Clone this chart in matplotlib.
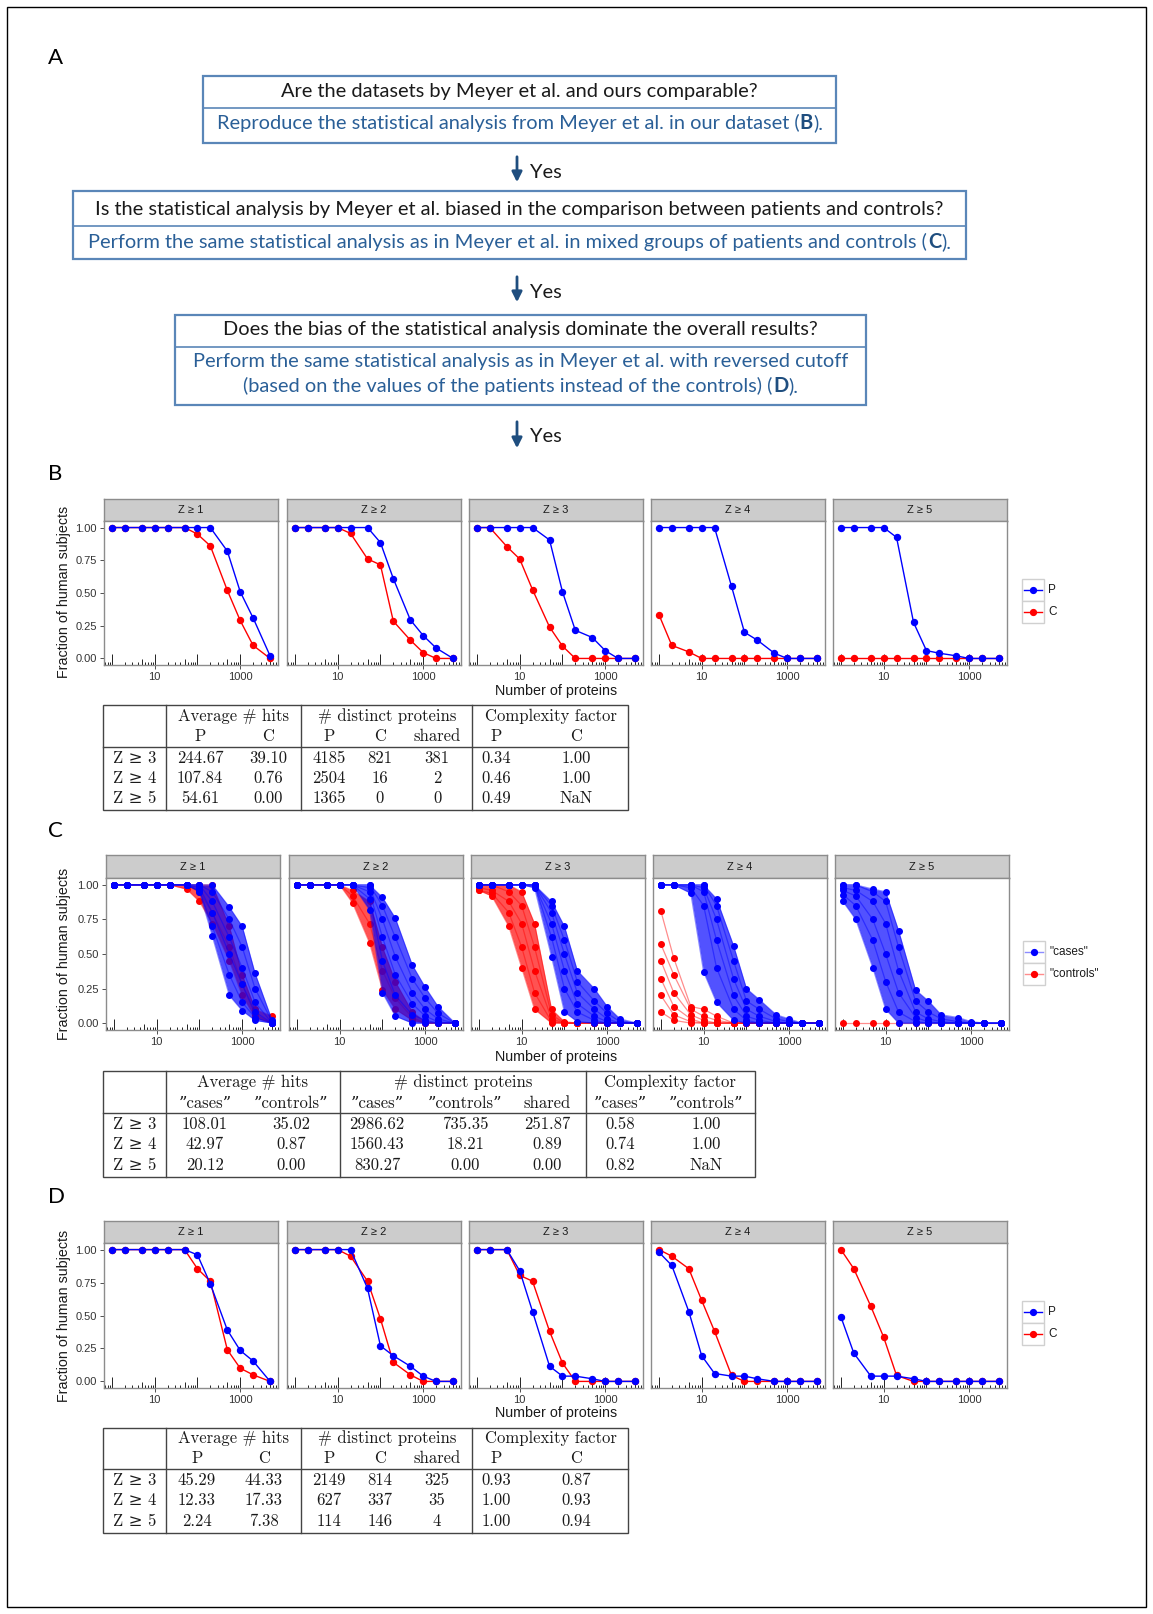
import matplotlib
matplotlib.use("Agg")
import matplotlib.pyplot as plt
import matplotlib.transforms as mtrans
from matplotlib.patches import Rectangle
import numpy as np

W, H = 1153, 1614

# ---------------- data ----------------
n_prot = [1, 2, 5, 10, 20, 50, 100, 200, 500, 1000, 2000, 5000]
z_strips = ["Z \u2265 1", "Z \u2265 2", "Z \u2265 3", "Z \u2265 4", "Z \u2265 5"]

# panel B: fraction of subjects, P (patients) and C (controls), one list per Z cutoff
b_p = [
    [1, 1, 1, 1, 1, 1, 1, 1, 0.82, 0.51, 0.31, 0.02],
    [1, 1, 1, 1, 1, 1, 0.885, 0.61, 0.295, 0.175, 0.08, 0.0],
    [1, 1, 1, 1, 1, 0.905, 0.51, 0.215, 0.16, 0.06, 0.0, 0.0],
    [1, 1, 1, 1, 1, 0.55, 0.20, 0.14, 0.04, 0.0, 0.0, 0.0],
    [1, 1, 1, 1, 0.925, 0.275, 0.06, 0.04, 0.02, 0.0, 0.0, 0.0],
]
b_c = [
    [1, 1, 1, 1, 1, 1, 0.95, 0.86, 0.52, 0.29, 0.10, 0.0],
    [1, 1, 1, 1, 0.955, 0.76, 0.715, 0.285, 0.14, 0.045, 0.0, 0.0],
    [1, 1, 0.855, 0.76, 0.525, 0.24, 0.095, 0.0, 0.0, 0.0, 0.0, 0.0],
    [0.335, 0.10, 0.05, 0.0, 0.0, 0.0, 0.0, 0.0, 0.0, 0.0, 0.0, 0.0],
    [0, 0, 0, 0, 0, 0, 0, 0, 0, 0, 0, 0],
]

# panel C: mixed groups, a selection of curves per Z cutoff
c_cases = [
    [[1, 1, 1, 1, 1, 1, 1, 1, 0.84, 0.70, 0.36, 0.02],
     [1, 1, 1, 1, 1, 1, 1, 0.95, 0.75, 0.55, 0.25, 0.01],
     [1, 1, 1, 1, 1, 1, 1, 0.88, 0.62, 0.40, 0.15, 0.0],
     [1, 1, 1, 1, 1, 1, 0.98, 0.80, 0.50, 0.28, 0.08, 0.0],
     [1, 1, 1, 1, 1, 1, 0.96, 0.70, 0.35, 0.15, 0.04, 0.0],
     [1, 1, 1, 1, 1, 1, 0.95, 0.63, 0.20, 0.09, 0.02, 0.0]],
    [[1, 1, 1, 1, 1, 1, 0.91, 0.76, 0.42, 0.26, 0.12, 0.0],
     [1, 1, 1, 1, 1, 1, 0.85, 0.62, 0.32, 0.18, 0.07, 0.0],
     [1, 1, 1, 1, 1, 0.98, 0.75, 0.48, 0.22, 0.10, 0.03, 0.0],
     [1, 1, 1, 1, 1, 0.95, 0.62, 0.35, 0.14, 0.05, 0.01, 0.0],
     [1, 1, 1, 1, 1, 0.90, 0.45, 0.20, 0.06, 0.02, 0.0, 0.0],
     [1, 1, 1, 1, 1, 0.82, 0.22, 0.05, 0.0, 0.0, 0.0, 0.0]],
    [[1, 1, 1, 1, 1, 0.88, 0.70, 0.38, 0.25, 0.12, 0.03, 0.0],
     [1, 1, 1, 1, 1, 0.85, 0.60, 0.30, 0.16, 0.07, 0.01, 0.0],
     [1, 1, 1, 1, 1, 0.80, 0.50, 0.22, 0.10, 0.03, 0.0, 0.0],
     [1, 1, 1, 1, 1, 0.72, 0.38, 0.14, 0.05, 0.01, 0.0, 0.0],
     [1, 1, 1, 1, 1, 0.62, 0.25, 0.08, 0.02, 0.0, 0.0, 0.0],
     [1, 1, 1, 1, 0.98, 0.48, 0.08, 0.01, 0.0, 0.0, 0.0, 0.0]],
    [[1, 1, 1, 1, 0.90, 0.56, 0.25, 0.17, 0.06, 0.03, 0.0, 0.0],
     [1, 1, 1, 1, 0.85, 0.45, 0.16, 0.10, 0.03, 0.01, 0.0, 0.0],
     [1, 1, 1, 0.98, 0.75, 0.32, 0.10, 0.05, 0.01, 0.0, 0.0, 0.0],
     [1, 1, 1, 0.95, 0.60, 0.20, 0.05, 0.02, 0.0, 0.0, 0.0, 0.0],
     [1, 1, 0.98, 0.85, 0.40, 0.10, 0.02, 0.0, 0.0, 0.0, 0.0, 0.0],
     [1, 1, 0.94, 0.37, 0.15, 0.02, 0.0, 0.0, 0.0, 0.0, 0.0, 0.0]],
    [[1, 1, 0.97, 0.95, 0.67, 0.24, 0.16, 0.06, 0.04, 0.01, 0.0, 0.0],
     [1, 1, 0.95, 0.88, 0.55, 0.16, 0.08, 0.03, 0.01, 0.0, 0.0, 0.0],
     [0.98, 0.96, 0.88, 0.72, 0.38, 0.08, 0.03, 0.01, 0.0, 0.0, 0.0, 0.0],
     [0.96, 0.92, 0.75, 0.50, 0.22, 0.04, 0.01, 0.0, 0.0, 0.0, 0.0, 0.0],
     [0.93, 0.85, 0.60, 0.30, 0.08, 0.01, 0.0, 0.0, 0.0, 0.0, 0.0, 0.0],
     [0.88, 0.75, 0.40, 0.10, 0.0, 0.0, 0.0, 0.0, 0.0, 0.0, 0.0, 0.0]],
]
c_controls = [
    [[1, 1, 1, 1, 1, 1, 1, 1, 0.70, 0.35, 0.10, 0.05],
     [1, 1, 1, 1, 1, 0.97, 0.88, 0.72, 0.45, 0.20, 0.04, 0.0],
     [1, 1, 1, 1, 1, 1, 0.95, 0.80, 0.55, 0.28, 0.06, 0.0]],
    [[1, 1, 1, 1, 0.96, 0.88, 0.55, 0.30, 0.08, 0.01, 0.0, 0.0],
     [1, 1, 1, 1, 0.92, 0.72, 0.38, 0.18, 0.04, 0.0, 0.0, 0.0],
     [1, 1, 1, 1, 0.87, 0.58, 0.24, 0.10, 0.02, 0.0, 0.0, 0.0]],
    [[1, 1, 1, 0.95, 0.72, 0.10, 0.01, 0.0, 0.0, 0.0, 0.0, 0.0],
     [1, 1, 0.95, 0.85, 0.55, 0.06, 0.0, 0.0, 0.0, 0.0, 0.0, 0.0],
     [0.98, 0.96, 0.88, 0.72, 0.38, 0.03, 0.0, 0.0, 0.0, 0.0, 0.0, 0.0],
     [0.96, 0.94, 0.80, 0.55, 0.22, 0.01, 0.0, 0.0, 0.0, 0.0, 0.0, 0.0],
     [0.96, 0.92, 0.70, 0.40, 0.10, 0.0, 0.0, 0.0, 0.0, 0.0, 0.0, 0.0]],
    [[0.81, 0.47, 0.12, 0.10, 0.05, 0.0, 0.0, 0.0, 0.0, 0.0, 0.0, 0.0],
     [0.57, 0.35, 0.10, 0.05, 0.02, 0.0, 0.0, 0.0, 0.0, 0.0, 0.0, 0.0],
     [0.45, 0.22, 0.06, 0.02, 0.0, 0.0, 0.0, 0.0, 0.0, 0.0, 0.0, 0.0],
     [0.32, 0.12, 0.03, 0.0, 0.0, 0.0, 0.0, 0.0, 0.0, 0.0, 0.0, 0.0],
     [0.20, 0.06, 0.01, 0.0, 0.0, 0.0, 0.0, 0.0, 0.0, 0.0, 0.0, 0.0],
     [0.08, 0.02, 0.0, 0.0, 0.0, 0.0, 0.0, 0.0, 0.0, 0.0, 0.0, 0.0]],
    [[0, 0, 0, 0, 0, 0, 0, 0, 0, 0, 0, 0]],
]
c_fill_cases = [True, True, True, True, True]
c_fill_controls = [True, True, True, False, False]

# panel D: reversed cutoff
d_p = [
    [1, 1, 1, 1, 1, 1, 0.96, 0.74, 0.39, 0.235, 0.155, 0.0],
    [1, 1, 1, 1, 1, 0.705, 0.27, 0.195, 0.115, 0.04, 0.0, 0.0],
    [1, 1, 1, 0.84, 0.53, 0.115, 0.04, 0.04, 0.02, 0.0, 0.0, 0.0],
    [0.98, 0.88, 0.53, 0.195, 0.06, 0.04, 0.04, 0.02, 0.0, 0.0, 0.0, 0.0],
    [0.49, 0.215, 0.04, 0.04, 0.04, 0.02, 0.0, 0.0, 0.0, 0.0, 0.0, 0.0],
]
d_c = [
    [1, 1, 1, 1, 1, 1, 0.855, 0.76, 0.24, 0.10, 0.05, 0.0],
    [1, 1, 1, 1, 0.95, 0.76, 0.475, 0.145, 0.05, 0.0, 0.0, 0.0],
    [1, 1, 1, 0.805, 0.76, 0.38, 0.14, 0.0, 0.0, 0.0, 0.0, 0.0],
    [1.0, 0.95, 0.855, 0.615, 0.38, 0.045, 0.0, 0.0, 0.0, 0.0, 0.0, 0.0],
    [1.0, 0.855, 0.57, 0.335, 0.045, 0.0, 0.0, 0.0, 0.0, 0.0, 0.0, 0.0],
]

# tables
tab_rows = ["Z \u2265 3", "Z \u2265 4", "Z \u2265 5"]
b_avg_p = [244.67, 107.84, 54.61]
b_avg_c = [39.10, 0.76, 0.00]
b_dist_p = [4185, 2504, 1365]
b_dist_c = [821, 16, 0]
b_shared = [381, 2, 0]
b_cf_p = [0.34, 0.46, 0.49]
b_cf_c = [1.00, 1.00, np.nan]

c_avg_cases = [108.01, 42.97, 20.12]
c_avg_controls = [35.02, 0.87, 0.00]
c_dist_cases = [2986.62, 1560.43, 830.27]
c_dist_controls = [735.35, 18.21, 0.00]
c_shared = [251.87, 0.89, 0.00]
c_cf_cases = [0.58, 0.74, 0.82]
c_cf_controls = [1.00, 1.00, np.nan]

d_avg_p = [45.29, 12.33, 2.24]
d_avg_c = [44.33, 17.33, 7.38]
d_dist_p = [2149, 627, 114]
d_dist_c = [814, 337, 146]
d_shared = [325, 35, 4]
d_cf_p = [0.93, 1.00, 1.00]
d_cf_c = [0.87, 0.93, 0.94]

# ---------------- style ----------------
BLUE = "#0000FF"
RED = "#FF0000"
GG_FONT = ["Liberation Sans", "DejaVu Sans"]
FLOW_FONT = ["Lato", "DejaVu Sans"]
TEX_FONT = ["cmr10", "DejaVu Serif"]
BOX_EDGE = "#5A86B8"
FLOW_BLUE = "#2A5F97"
FLOW_BOLD = "#1F4E7F"
FLOW_SIZE = 14.4

plt.rcParams["font.family"] = GG_FONT

fig = plt.figure(figsize=(W / 100, H / 100), dpi=100)


def box(x0, y0, x1, y1):
    return [x0 / W, 1 - y1 / H, (x1 - x0) / W, (y1 - y0) / H]


ov = fig.add_axes([0, 0, 1, 1])
ov.set_xlim(0, W)
ov.set_ylim(H, 0)
ov.axis("off")

# outer frame
ov.add_patch(Rectangle((7, 7), 1139, 1600, fill=False, ec="black", lw=1))

# panel letters
for lab, yy in [("A", 58), ("B", 474), ("C", 831), ("D", 1197)]:
    ov.text(48, yy, lab, fontsize=16, fontfamily=FLOW_FONT, va="center", ha="left")

# ---------------- panel A: flow chart ----------------
renderer = fig.canvas.get_renderer()


def rich_line(xc, y, parts, size=FLOW_SIZE):
    arts = []
    for s, bold in parts:
        arts.append(ov.text(0, y, s, fontsize=size, fontfamily=FLOW_FONT,
                            fontweight="bold" if bold else "normal",
                            color=FLOW_BOLD if bold else FLOW_BLUE,
                            va="center", ha="left"))
    ws = [a.get_window_extent(renderer).width for a in arts]
    x = xc - sum(ws) / 2
    for a, w in zip(arts, ws):
        a.set_x(x)
        x += w + 0.5


def flow_box(x0, y0, x1, y1, ydiv, question, yq, actions):
    ov.add_patch(Rectangle((x0, y0), x1 - x0, y1 - y0, fill=False, ec=BOX_EDGE, lw=1.6))
    ov.plot([x0, x1], [ydiv, ydiv], color=BOX_EDGE, lw=1.2)
    xc = (x0 + x1) / 2
    ov.text(xc, yq, question, fontsize=FLOW_SIZE, fontfamily=FLOW_FONT, color="#1A1A1A",
            ha="center", va="center")
    for ya, parts in actions:
        rich_line(xc, ya, parts)


def yes_arrow(y0, y1, yt):
    ov.annotate("", xy=(517, y1), xytext=(517, y0),
                arrowprops=dict(arrowstyle="-|>", color=FLOW_BOLD, lw=2.0, mutation_scale=15))
    ov.text(530, yt, "Yes", fontsize=FLOW_SIZE, fontfamily=FLOW_FONT, color="#1A1A1A",
            ha="left", va="center")


flow_box(203, 76, 836, 143, 108,
         "Are the datasets by Meyer et al. and ours comparable?", 91,
         [(123, [("Reproduce the statistical analysis from Meyer et al. in our dataset (", False),
                 ("B", True), (").", False)])])
yes_arrow(154, 185, 172)
flow_box(73, 191, 966, 259, 226,
         "Is the statistical analysis by Meyer et al. biased in the comparison between patients and controls?", 210,
         [(242, [("Perform the same statistical analysis as in Meyer et al. in mixed groups of patients and controls (", False),
                 ("C", True), (").", False)])])
yes_arrow(274, 305, 292)
flow_box(175, 315, 866, 405, 347,
         "Does the bias of the statistical analysis dominate the overall results?", 330,
         [(362, [("Perform the same statistical analysis as in Meyer et al. with reversed cutoff", False)]),
          (386, [("(based on the values of the patients instead of the controls) (", False),
                 ("D", True), (").", False)])])
yes_arrow(419, 451, 437)

# ---------------- facet plots ----------------
XLO, XHI = 10 ** -0.185, 10 ** 3.884


def facet(x0, x1, y_strip, y_top, y_bot, label, first):
    sax = fig.add_axes(box(x0, y_strip, x1, y_top))
    sax.set_facecolor("#CCCCCC")
    sax.set_xticks([])
    sax.set_yticks([])
    for s in sax.spines.values():
        s.set_color("#8C8C8C")
        s.set_linewidth(1.0)
    sax.text(0.5, 0.5, label, transform=sax.transAxes, ha="center", va="center",
             fontsize=8, color="#1A1A1A")

    ax = fig.add_axes(box(x0, y_top, x1, y_bot))
    ax.set_xscale("log")
    ax.set_xlim(XLO, XHI)
    ax.set_ylim(-0.05, 1.05)
    for s in ax.spines.values():
        s.set_color("#8C8C8C")
        s.set_linewidth(1.0)
    ax.set_xticks([10, 1000])
    ax.set_xticklabels(["10", "1000"])
    ax.minorticks_off()
    ax.tick_params(axis="x", length=3, width=0.6, color="#333333", labelsize=8,
                   labelcolor="#333333", pad=2)
    if first:
        ax.set_yticks([0, 0.25, 0.5, 0.75, 1.0])
        ax.set_yticklabels(["0.00", "0.25", "0.50", "0.75", "1.00"])
        ax.tick_params(axis="y", length=3, width=0.6, color="#333333", labelsize=8,
                       labelcolor="#333333", pad=2)
    else:
        ax.set_yticks([])
    # log ticks along the bottom of the panel
    ph = y_bot - y_top
    trans = mtrans.blended_transform_factory(ax.transData, ax.transAxes)
    for k in range(-1, 4):
        for m in range(1, 10):
            v = m * 10 ** k
            if XLO <= v <= XHI:
                L = 11 if m == 1 else (6 if m == 5 else 3.5)
                ax.plot([v, v], [0, L / ph], transform=trans, color="black", lw=0.6,
                        zorder=1, solid_capstyle="butt")
    return ax


PANEL_X = [(104, 278), (287, 461), (469, 643), (651, 825), (833, 1007)]
PANEL_XC = [(106, 280), (289, 463), (471, 645), (653, 827), (835, 1009)]


def legend_keys(x0, y0, labels, colors, line_alpha):
    for i, (lab, col) in enumerate(zip(labels, colors)):
        yy = y0 + i * 22
        ov.add_patch(Rectangle((x0, yy), 22, 22, fc="white", ec="#D0D0D0", lw=1))
        ov.plot([x0 + 2, x0 + 20], [yy + 11, yy + 11], color=col, lw=1.0, alpha=line_alpha)
        ov.plot([x0 + 11], [yy + 11], "o", color=col, ms=4.2)
        ov.text(x0 + 26, yy + 11, lab, fontsize=8.5, va="center", ha="left", color="#1A1A1A")


def axis_titles(y_mid, y_xlab):
    ov.text(64, y_mid, "Fraction of human subjects", rotation=90, fontsize=10.3,
            ha="center", va="center", color="#1A1A1A")
    ov.text(556, y_xlab, "Number of proteins", fontsize=10.3, ha="center", va="center",
            color="#1A1A1A")


# B
for i in range(5):
    ax = facet(PANEL_X[i][0], PANEL_X[i][1], 499, 521, 665, z_strips[i], i == 0)
    ax.plot(n_prot, b_c[i], "-o", color=RED, lw=1.0, ms=4.3, zorder=3)
    ax.plot(n_prot, b_p[i], "-o", color=BLUE, lw=1.0, ms=4.3, zorder=4)
axis_titles(592, 691)
legend_keys(1022, 579, ["P", "C"], [BLUE, RED], 1.0)

# C
for i in range(5):
    ax = facet(PANEL_XC[i][0], PANEL_XC[i][1], 855, 878, 1030, z_strips[i], i == 0)
    for grp, col, fills, z in [(c_controls, RED, c_fill_controls, 3), (c_cases, BLUE, c_fill_cases, 5)]:
        curves = np.array(grp[i])
        if fills[i]:
            ax.fill_between(n_prot, curves.min(axis=0), curves.max(axis=0), color=col,
                            alpha=0.68, lw=0, zorder=z)
        for cv in curves:
            ax.plot(n_prot, cv, "-", color=col, lw=0.9, alpha=0.45, zorder=z)
            ax.plot(n_prot, cv, "o", color=col, ms=4.0, zorder=z + 1)
axis_titles(954, 1057)
legend_keys(1023, 941, ['"cases"', '"controls"'], [BLUE, RED], 0.45)

# D
for i in range(5):
    ax = facet(PANEL_X[i][0], PANEL_X[i][1], 1221, 1243, 1388, z_strips[i], i == 0)
    ax.plot(n_prot, d_c[i], "-o", color=RED, lw=1.0, ms=4.3, zorder=3)
    ax.plot(n_prot, d_p[i], "-o", color=BLUE, lw=1.0, ms=4.3, zorder=4)
axis_titles(1316, 1413)
legend_keys(1022, 1301, ["P", "C"], [BLUE, RED], 1.0)


# ---------------- tables ----------------
def f2(v):
    return "NaN" if np.isnan(v) else f"{v:.2f}"


def draw_table(x0, x1, y0, y1, vlines, y_hline, head1, head2, y_h1, y_h2, rows_y,
               col_x, columns):
    tl = dict(color="#444444", lw=1.0)
    ov.add_patch(Rectangle((x0, y0), x1 - x0, y1 - y0, fill=False, ec="#444444", lw=1.0))
    for xv in vlines:
        ov.plot([xv, xv], [y0, y1], **tl)
    ov.plot([x0, x1], [y_hline, y_hline], **tl)
    kw = dict(fontsize=12, fontfamily=TEX_FONT, ha="center", va="center", color="#1A1A1A")
    for txt, xc in head1:
        ov.text(xc, y_h1, txt, **kw)
    for txt, xc in zip(head2, col_x):
        ov.text(xc, y_h2, txt, **kw)
    for r, yy in enumerate(rows_y):
        ov.text(135, yy, tab_rows[r], **kw)
        for col, xc in zip(columns, col_x):
            ov.text(xc, yy, col[r], **kw)


draw_table(103, 628, 705, 810, [166, 301, 472], 747,
           [("Average # hits", 234), ("# distinct proteins", 387), ("Complexity factor", 551)],
           ["P", "C", "P", "C", "shared", "P", "C"], 716, 736, [758, 778, 798],
           [200, 268, 329, 380, 437, 496, 576],
           [[f2(v) for v in b_avg_p], [f2(v) for v in b_avg_c],
            [str(v) for v in b_dist_p], [str(v) for v in b_dist_c], [str(v) for v in b_shared],
            [f2(v) for v in b_cf_p], [f2(v) for v in b_cf_c]])

draw_table(103, 755, 1071, 1177, [166, 340, 586], 1113,
           [("Average # hits", 253), ("# distinct proteins", 463), ("Complexity factor", 670)],
           ["\u201dcases\u201d", "\u201dcontrols\u201d", "\u201dcases\u201d", "\u201dcontrols\u201d",
            "shared", "\u201dcases\u201d", "\u201dcontrols\u201d"],
           1082, 1103, [1124, 1144, 1165],
           [205, 291, 377, 465, 547, 620, 706],
           [[f2(v) for v in c_avg_cases], [f2(v) for v in c_avg_controls],
            [f2(v) for v in c_dist_cases], [f2(v) for v in c_dist_controls],
            [f2(v) for v in c_shared],
            [f2(v) for v in c_cf_cases], [f2(v) for v in c_cf_controls]])

draw_table(103, 628, 1428, 1533, [166, 301, 472], 1469,
           [("Average # hits", 234), ("# distinct proteins", 387), ("Complexity factor", 551)],
           ["P", "C", "P", "C", "shared", "P", "C"], 1438, 1458, [1480, 1500, 1521],
           [197, 264, 329, 380, 437, 496, 576],
           [[f2(v) for v in d_avg_p], [f2(v) for v in d_avg_c],
            [str(v) for v in d_dist_p], [str(v) for v in d_dist_c], [str(v) for v in d_shared],
            [f2(v) for v in d_cf_p], [f2(v) for v in d_cf_c]])

fig.savefig("out.png", dpi=100)
